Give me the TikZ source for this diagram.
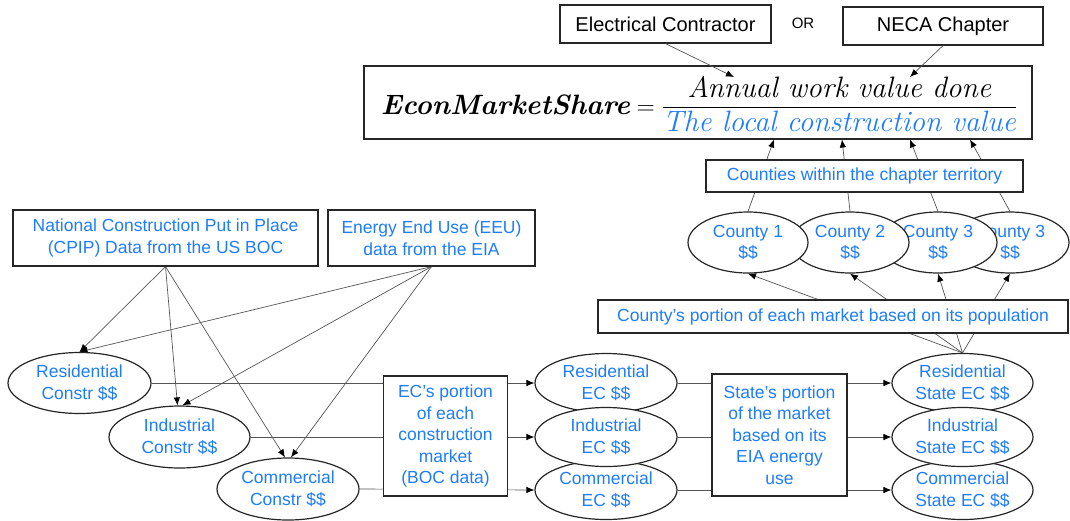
\documentclass[tikz,border=0pt]{standalone}
\usepackage{amsmath}
\usepackage{fontspec}
\setsansfont{Liberation Sans}
\usetikzlibrary{shapes.geometric,arrows.meta}
\definecolor{txtblue}{RGB}{30,125,250}
\definecolor{linegray}{RGB}{85,85,85}
\pgfdeclarelayer{bg}
\pgfsetlayers{bg,main}
\newcommand{\fracfont}{\fontsize{29.5}{34}\selectfont\itshape}
\begin{document}
\begin{tikzpicture}[x=1pt,y=-1pt,
  txt/.style={font=\sffamily\fontsize{17.5}{21.5}\selectfont, text=txtblue, align=center},
  boxnode/.style={draw=black!85, line width=1.2pt, fill=white, inner sep=0pt, txt},
  topbox/.style={boxnode, text=black, font=\sffamily\fontsize{20}{24}\selectfont},
  ellnode/.style={ellipse, draw=black!85, line width=1.2pt, fill=white, inner sep=0pt, txt},
  conn/.style={draw=linegray, line width=0.7pt, -{Latex[length=8pt,width=6.5pt,color=black]}}
]
\useasboundingbox (0,0) rectangle (1070,520);

% top
\node[topbox, minimum width=211pt, minimum height=38pt] (ec) at (665.5,24) {Electrical Contractor};
\node[font=\sffamily\fontsize{15}{18}\selectfont, inner sep=0pt] (or) at (803,23) {OR};
\node[topbox, minimum width=200pt, minimum height=38pt] (neca) at (943,26) {NECA Chapter};
\node[draw=black!85, line width=1.2pt, minimum width=668pt, minimum height=73pt, inner sep=0pt] (fbox) at (698,102.5) {};
\node[anchor=base, inner sep=0pt] (formula) at (699,114) {\fontsize{27}{32}\selectfont$\text{\fontsize{28}{32}\selectfont\bfseries\itshape EconMarketShare}=\dfrac{\text{\fracfont Annual work value done}}{\text{\fracfont\color{txtblue}The local construction value}}$};

% counties
\node[boxnode, minimum width=317pt, minimum height=32pt] (counties) at (864.5,176) {Counties within the chapter territory};
\node[ellnode, minimum width=118pt, minimum height=61pt] (c4) at (1010,242.5) {County 3\\\$\$};
\node[ellnode, minimum width=118pt, minimum height=61pt] (c3) at (938,242.5) {County 3\\\$\$};
\node[ellnode, minimum width=118pt, minimum height=61pt] (c2) at (850,242.5) {County 2\\\$\$};
\node[ellnode, minimum width=120pt, minimum height=61pt] (c1) at (748,242.5) {County 1\\\$\$};
\node[boxnode, minimum width=470pt, minimum height=33pt] (cportion) at (833,316.5) {County’s portion of each market based on its population};

% left sources
\node[boxnode, minimum width=305pt, minimum height=56pt] (cpip) at (165.5,238) {National Construction Put in Place\\(CPIP) Data from the US BOC};
\node[boxnode, minimum width=207pt, minimum height=56pt] (eeu) at (431.5,238) {Energy End Use (EEU)\\data from the EIA};

% construction ellipses
\node[ellnode, minimum width=143pt, minimum height=61pt] (rc) at (79.5,383) {Residential\\Constr \$\$};
\node[ellnode, minimum width=141pt, minimum height=62pt] (ic) at (179.5,437) {Industrial\\Constr \$\$};
\node[ellnode, minimum width=142pt, minimum height=62pt] (cc) at (288,489) {Commercial\\Constr \$\$};

% EC portion
\node[boxnode, minimum width=124pt, minimum height=120pt] (ecp) at (445.5,436) {EC’s portion\\of each\\construction\\market\\(BOC data)};
\node[ellnode, minimum width=142pt, minimum height=59pt] (rec) at (606,383) {Residential\\EC \$\$};
\node[ellnode, minimum width=142pt, minimum height=59pt] (cec) at (606,490) {Commercial\\EC \$\$};
\node[ellnode, minimum width=142pt, minimum height=59pt] (iec) at (606,437) {Industrial\\EC \$\$};

% State portion
\node[boxnode, minimum width=135pt, minimum height=122pt] (sp) at (779.5,435) {State’s portion\\of the market\\based on its\\EIA energy\\use};
\node[ellnode, minimum width=141pt, minimum height=59pt] (rsec) at (962.5,383) {Residential\\State EC \$\$};
\node[ellnode, minimum width=141pt, minimum height=59pt] (csec) at (962.5,490) {Commercial\\State EC \$\$};
\node[ellnode, minimum width=141pt, minimum height=59pt] (isec) at (962.5,437) {Industrial\\State EC \$\$};

\begin{pgfonlayer}{bg}
  \draw[conn] (cpip.south) -- (rc.north);
  \draw[conn] (cpip.south) -- ([xshift=-2pt]ic.north);
  \draw[conn] (cpip.south) -- ([xshift=-3pt]cc.north);
  \draw[conn] (eeu.south) -- (rc.north);
  \draw[conn] (eeu.south) -- ([xshift=3pt]ic.north);
  \draw[conn] (eeu.south) -- ([xshift=3pt]cc.north);
  \draw[conn] (rc.east) -- (rec.west);
  \draw[conn] (ic.east) -- (iec.west);
  \draw[conn] (cc.east) -- (cec.west);
  \draw[conn] (rec.east) -- (rsec.west);
  \draw[conn] (iec.east) -- (isec.west);
  \draw[conn] (cec.east) -- (csec.west);
  \draw[conn] (rsec.north) -- (c1.south);
  \draw[conn] (rsec.north) -- (c2.south);
  \draw[conn] (rsec.north) -- (c3.south);
  \draw[conn] (rsec.north) -- (c4.south);
  \coordinate (d1) at (774,139.5);
  \coordinate (d2) at (842,139.5);
  \coordinate (d3) at (910,139.5);
  \coordinate (d4) at (970,139.5);
  \draw[conn] (c1.north) -- (d1);
  \draw[conn] (c2.north) -- (d2);
  \draw[conn] (c3.north) -- (d3);
  \draw[conn] (c4.north) -- (d4);
\end{pgfonlayer}

\coordinate (n1) at (734,77);
\coordinate (n2) at (910,77);
\draw[conn] (ec.south) -- (n1);
\draw[conn] (neca.south) -- (n2);
\end{tikzpicture}
\end{document}
